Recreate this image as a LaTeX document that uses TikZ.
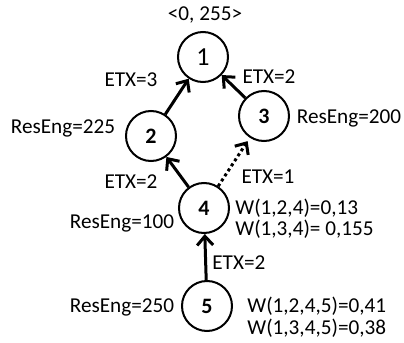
\documentclass[tikz,border=0pt]{standalone}
\usepackage{fontspec}
\setmainfont{Carlito}
\usetikzlibrary{arrows.meta, positioning}

\begin{document}
\begin{tikzpicture}[x=0.5pt, y=-0.5pt, every node/.style={font=\fontsize{10.6}{12}\selectfont},
  vertex/.style={circle, draw, line width=1pt, minimum size=25pt, inner sep=0pt, font=\fontsize{11}{12}\selectfont\bfseries},
  link/.style={line width=1.5pt, -{Straight Barb[length=4.5pt, width=8pt]}}]
  \useasboundingbox (0,0) rectangle (404,343);
  % nodes
  \node[vertex, font=\fontsize{13}{14}\selectfont] (n1) at (203,57) {1};
  \node[vertex] (n2) at (151,136) {2};
  \node[vertex] (n3) at (264,116) {3};
  \node[vertex] (n4) at (204,208) {4};
  \node[vertex] (n5) at (207,306) {5};
  % links
  \draw[link] (n2) -- (n1);
  \draw[link] (n3) -- (n1);
  \draw[link] (n4) -- (n2);
  \draw[link, dash pattern=on 1.5pt off 1.5pt, shorten >=2pt] (n4) -- (n3);
  \draw[link] (n5) -- (n4);
  % labels
  \node (root) at (205,15) {<0, 255>};
  \node (e21) at (131,80) {ETX=3};
  \node (e31) at (269,77) {ETX=2};
  \node (e42) at (131,182) {ETX=2};
  \node (e43) at (268,177) {ETX=1};
  \node[anchor=west, inner sep=0pt] (e54) at (212,263) {ETX=2};
  \node (r2) at (63,128) {ResEng=225};
  \node (r3) at (349,118) {ResEng=200};
  \node (r4) at (122,223) {ResEng=100};
  \node (r5) at (122,307) {ResEng=250};
  \node[anchor=west, inner sep=0pt] (w4a) at (235,208) {W(1,2,4)=0,13};
  \node[anchor=west, inner sep=0pt] (w4b) at (235,229) {W(1,3,4)= 0,155};
  \node[anchor=west, inner sep=0pt] (w5a) at (247,306) {W(1,2,4,5)=0,41};
  \node[anchor=west, inner sep=0pt] (w5b) at (247,328) {W(1,3,4,5)=0,38};
\end{tikzpicture}
\end{document}
